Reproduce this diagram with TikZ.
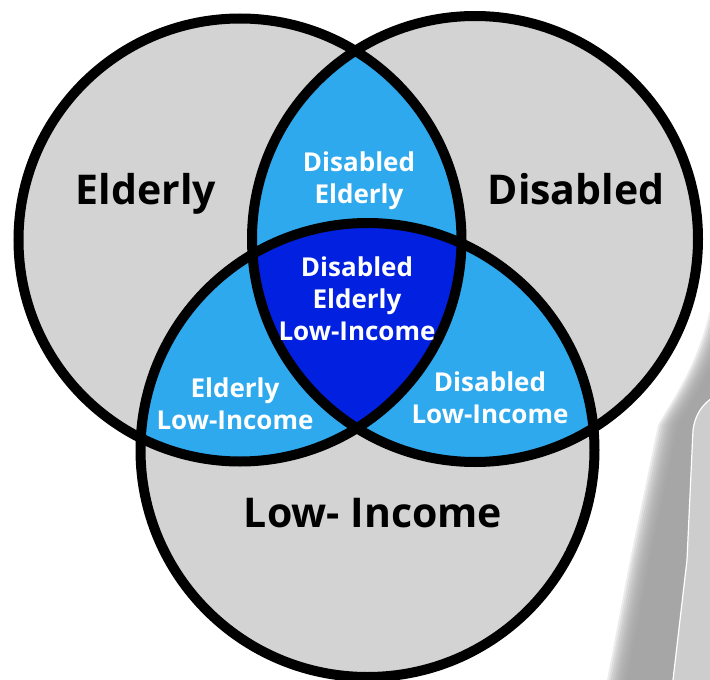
\documentclass[tikz,border=0pt]{standalone}
\usepackage{fontspec}
\setmainfont{Open Sans}
\usetikzlibrary{calc}
\definecolor{venngray}{RGB}{211,211,211}
\definecolor{lensblue}{RGB}{46,169,238}
\definecolor{coreblue}{RGB}{2,32,224}
\definecolor{shadowlight}{RGB}{205,205,205}

\begin{document}
\begin{tikzpicture}[x=1pt,y=-1pt,
  ring/.style={line width=10pt},
  bigtxt/.style={font=\fontsize{41}{48}\selectfont\bfseries},
  lenstxt/.style={font=\fontsize{26}{32}\selectfont\bfseries,text=white,align=center}]
\useasboundingbox (0,0) rectangle (710,680);
% page shadow on the right
\begin{scope}
\clip (0,0) rectangle (710,680);
\foreach \s in {0,2,...,20}
  \fill[black!38,fill opacity=0.2,xshift=\s pt] (714,290) .. controls (702,360) and (675,395) .. (658,425) -- (630,560) -- (607,680) -- (714,680) -- cycle;
\fill[shadowlight] (712,398) .. controls (702,405) and (695,415) .. (693,430) -- (687,560) -- (673,680) -- (712,680) -- cycle;
\draw[white,line width=1.2pt] (712,398) .. controls (702,405) and (695,415) .. (693,430) -- (687,560) -- (673,680);
\end{scope}
% circles
\coordinate (E) at (240,240);
\coordinate (D) at (475,239);
\coordinate (L) at (367.5,450);
\fill[venngray] (E) circle[radius=221.5];
\fill[venngray] (D) circle[radius=223];
\fill[venngray] (L) circle[radius=227];
\begin{scope}
\clip (E) circle[radius=221.5];
\fill[lensblue] (D) circle[radius=223];
\fill[lensblue] (L) circle[radius=227];
\end{scope}
\begin{scope}
\clip (D) circle[radius=223];
\fill[lensblue] (L) circle[radius=227];
\clip (E) circle[radius=221.5];
\fill[coreblue] (L) circle[radius=227];
\end{scope}
\draw[ring] (E) circle[radius=221.5];
\draw[ring] (D) circle[radius=223];
\draw[ring] (L) circle[radius=227];
% labels
\node[bigtxt,anchor=base] (eld) at (146,204) {Elderly};
\node[bigtxt,anchor=base] (dis) at (576,204) {Disabled};
\node[bigtxt,anchor=base] (low) at (373,527) {Low- Income};
\node[lenstxt] (diseld) at (359,181) {Disabled\\Elderly};
\node[lenstxt] (all) at (357,299) {Disabled\\Elderly\\Low-Income};
\node[lenstxt] (eldlow) at (235,404) {Elderly\\Low-Income};
\node[lenstxt] (dislow) at (490,398) {Disabled\\Low-Income};
\end{tikzpicture}
\end{document}
